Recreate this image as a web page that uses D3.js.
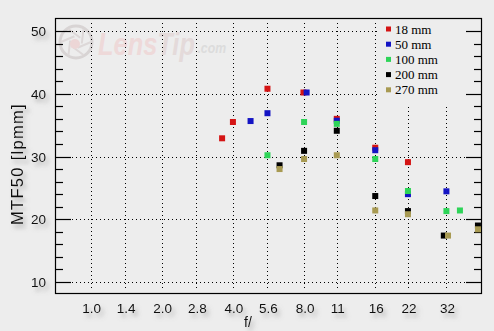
<!DOCTYPE html>
<html><head><meta charset="utf-8">
<script src="https://cdn.jsdelivr.net/npm/d3@7"></script>
<style>body{margin:0;background:#ededed;}svg{display:block;}</style>
</head><body>
<script>
// ---- data ----
const fTicks = [1.0, 1.4, 2.0, 2.8, 4.0, 5.6, 8.0, 11, 16, 22, 32];
const fTickLabels = ["1.0","1.4","2.0","2.8","4.0","5.6","8.0","11","16","22","32"];
const yTicks = [10, 20, 30, 40, 50];
const seriesNames = ["18 mm", "50 mm", "100 mm", "200 mm", "270 mm"];
const seriesColors = ["#d41414", "#1414c4", "#2ed458", "#000000", "#a89a52"];
const f18  = [3.6, 4.0, 5.6, 7.95, 11, 16, 22];
const v18  = [32.9, 35.5, 40.8, 40.2, 36.0, 31.4, 29.1];
const f50  = [4.75, 5.6, 8.2, 11, 16, 22, 32];
const v50  = [35.65, 36.9, 40.2, 35.7, 31.0, 24.0, 24.45];
const f100 = [5.6, 8.0, 11, 16, 22, 32, 36.5];
const v100 = [30.2, 35.5, 35.2, 29.6, 24.5, 21.3, 21.4];
const f200 = [6.3, 8.0, 11, 16, 22, 31.2, 43.5];
const v200 = [28.6, 30.9, 34.1, 23.7, 21.3, 17.4, 19.0];
const f270 = [6.3, 8.0, 11, 16, 22, 32.5, 43.5];
const v270 = [28.0, 29.6, 30.2, 21.4, 20.8, 17.4, 18.4];

const series = [[f18,v18],[f50,v50],[f100,v100],[f200,v200],[f270,v270]];

const W = 494, H = 331;
const L = 55, R = 482, T = 18, B = 294;
const stop = f => 2 * Math.log2(f);
const x = d3.scaleLinear().domain([-1, 11]).range([L, R]);
const y = d3.scaleLinear().domain([10, 50]).range([282, 31]);

const svg = d3.select("body").append("svg").attr("width", W).attr("height", H)
  .style("font-family", "'Liberation Sans', Arial, sans-serif");
const defs = svg.append("defs");
const flt = defs.append("filter").attr("id","sh").attr("x","-50%").attr("y","-50%").attr("width","200%").attr("height","200%");
flt.append("feDropShadow").attr("dx",3).attr("dy",4).attr("stdDeviation",2.2)
  .attr("flood-color","#7a7a7a").attr("flood-opacity",0.55);
const clip = defs.append("clipPath").attr("id","plot");
clip.append("rect").attr("x",L+1).attr("y",T+1).attr("width",R-L-2).attr("height",B-T-2);

svg.append("rect").attr("width",W).attr("height",H).attr("fill","#ededed");

// watermark
const wm = svg.append("g");
wm.append("circle").attr("cx",76).attr("cy",42).attr("r",16).attr("fill","none").attr("stroke","#d8d4d4").attr("stroke-width",3);
[0,60,120,180,240,300].forEach(a => {
  const r = a * Math.PI / 180;
  wm.append("line").attr("x1", 76 + 15*Math.cos(r)).attr("y1", 42 + 15*Math.sin(r))
    .attr("x2", 76 + 6*Math.cos(r + 1.3)).attr("y2", 42 + 6*Math.sin(r + 1.3))
    .attr("stroke","#ddd8d8").attr("stroke-width",2);
});
wm.append("circle").attr("cx",75).attr("cy",44).attr("r",5).attr("fill","#ecd6d6");
const wt = wm.append("text").attr("transform","translate(98,55) scale(0.82,1)")
  .attr("font-weight","bold").attr("font-style","italic");
wt.append("tspan").attr("font-size",31).attr("fill","#eed9d9").text("Lens");
wt.append("tspan").attr("font-size",31).attr("fill","#e4dada").text("Tip");
wt.append("tspan").attr("font-size",15).attr("dx",3).attr("dy",-2).attr("fill","#dcdcdc").text(".com");

// grid
const grid = svg.append("g").attr("stroke","#000").attr("stroke-width",1).attr("stroke-dasharray","1,3");
grid.selectAll("line.v").data(fTicks).join("line")
  .attr("x1", d => Math.round(x(stop(d))) + 0.5).attr("x2", d => Math.round(x(stop(d))) + 0.5)
  .attr("y1", T + 5).attr("y2", B - 3);
grid.selectAll("line.h").data(yTicks).join("line")
  .attr("x1", L + 17).attr("x2", R - 16)
  .attr("y1", d => Math.round(y(d)) + 0.5).attr("y2", d => Math.round(y(d)) + 0.5);

// legend background (covers grid)
svg.append("rect").attr("x", 378).attr("y", T + 1).attr("width", R - 16 - 378).attr("height", 104 - T)
  .attr("fill", "#ededed");

// frame
svg.append("rect").attr("x",L+0.5).attr("y",T+0.5).attr("width",R-L-1).attr("height",B-T-1)
  .attr("fill","none").attr("stroke","#000").attr("stroke-width",1.2);

// y ticks (left and right)
const minor = d3.range(10, 51, 2);
const tk = svg.append("g").attr("stroke","#000").attr("stroke-width",1.2);
tk.selectAll("line.l").data(minor).join("line")
  .attr("x1", L).attr("x2", d => L + (d % 10 === 0 ? 16 : 8))
  .attr("y1", d => Math.round(y(d)) + 0.5).attr("y2", d => Math.round(y(d)) + 0.5);
tk.selectAll("line.r").data(minor).join("line")
  .attr("x1", R).attr("x2", d => R - (d % 10 === 0 ? 16 : 8))
  .attr("y1", d => Math.round(y(d)) + 0.5).attr("y2", d => Math.round(y(d)) + 0.5);

// y labels
const yl = svg.append("g").attr("filter","url(#sh)");
yl.selectAll("text").data(yTicks).join("text")
  .attr("x", 46).attr("y", d => y(d) + 5).attr("text-anchor","end")
  .attr("font-size", 13.5).attr("fill","#111").text(d => d);
// x labels
const xl = svg.append("g").attr("filter","url(#sh)");
xl.selectAll("text").data(fTicks).join("text")
  .attr("x", d => x(stop(d)) + 1).attr("y", 313).attr("text-anchor","middle")
  .attr("font-size", 13.5).attr("fill","#111").text((d,i) => fTickLabels[i]);
xl.append("text").attr("x", 248).attr("y", 327).attr("text-anchor","middle")
  .attr("font-size", 14).attr("fill","#111").text("f/");
// y title
yl.append("text").attr("transform","translate(23,164) rotate(-90)").attr("text-anchor","middle")
  .attr("font-size", 16.5).attr("letter-spacing", 1.3).attr("fill","#111").text("MTF50 [lpmm]");

// points
const pts = svg.append("g").attr("clip-path","url(#plot)");
const S = 6;
series.forEach(([fs, vs], si) => {
  pts.append("g").selectAll("rect").data(fs.map((f,i)=>[f,vs[i]])).join("rect")
    .attr("x", d => x(stop(d[0])) - S/2).attr("y", d => y(d[1]) - S/2)
    .attr("width", S).attr("height", S).attr("fill", seriesColors[si]);
});

// legend
const lg = svg.append("g").attr("font-family","'Liberation Serif', 'Times New Roman', serif");
seriesNames.forEach((n, i) => {
  const yy = 29 + i * 15.2;
  lg.append("rect").attr("x", 386).attr("y", yy - 2.5).attr("width", 5).attr("height", 5).attr("fill", seriesColors[i]);
  lg.append("text").attr("x", 395).attr("y", yy + 4.5).attr("font-size", 13).attr("fill","#000").text(n);
});
</script>
</body></html>
